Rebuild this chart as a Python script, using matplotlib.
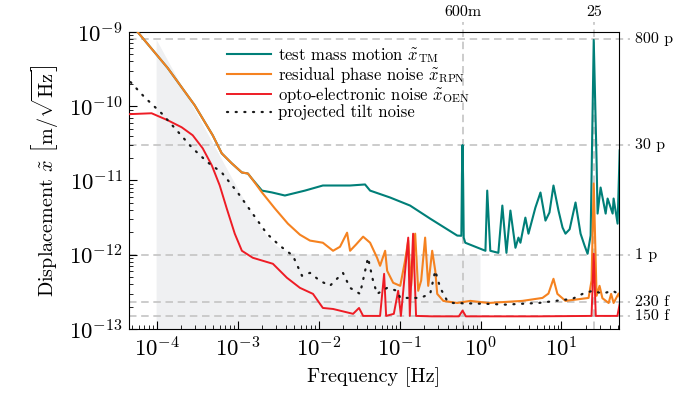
import matplotlib
matplotlib.use("Agg")
import matplotlib.pyplot as plt
import numpy as np

# --- data (frequency in Hz, ASD in m/sqrt(Hz)) ---
tm_freq = [5.82e-5, 1.37e-4, 2.95e-4, 4.93e-4, 6.37e-4, 8.47e-4, 1.13e-3, 1.34e-3,
           1.50e-3, 2.0e-3, 2.65e-3, 3.84e-3, 6.79e-3, 1.13e-2, 2.45e-2, 3.75e-2,
           4.33e-2, 7.65e-2, 0.135, 0.239, 0.516, 0.58, 0.59, 0.60, 0.61, 0.62,
           0.648, 1.15, 1.21, 1.32, 1.66, 1.86, 2.09, 2.34, 2.70, 2.94, 3.11,
           3.58, 3.91, 4.76, 5.50, 6.34, 7.1, 7.96, 9.18, 10.3, 11.2, 12.6,
           14.9, 17.2, 19.3, 21.0, 22.9, 25.0, 27.1, 27.9, 30.4, 35.1, 37.1,
           42.8, 44.0, 49.3, 52.3]
tm_asd = [1.0e-9, 3.27e-10, 1.03e-10, 4.06e-11, 2.32e-11, 1.70e-11, 1.28e-11, 1.24e-11,
          1.06e-11, 7.3e-12, 6.9e-12, 6.27e-12, 7.3e-12, 8.55e-12, 8.55e-12, 8.83e-12,
          7.3e-12, 5.89e-12, 4.59e-12, 3.06e-12, 1.81e-12, 1.8e-12, 1.2e-11, 3.0e-11, 1.0e-11, 1.7e-12,
          1.45e-12, 1.13e-12, 7.3e-12, 1.13e-12, 1.06e-12, 4.59e-12, 1.06e-12, 3.93e-12, 1.24e-12, 1.70e-12, 1.45e-12,
          3.16e-12, 1.92e-12, 4.31e-12, 6.88e-12, 2.88e-12, 3.70e-12, 8.55e-12, 3.93e-12, 2.32e-12, 1.92e-12, 2.2e-12,
          5.05e-12, 1.92e-12, 1.32e-12, 1.03e-12, 1.81e-12, 7.8e-10, 1.86e-11, 3.58e-12, 8.03e-12, 3.58e-12, 5.71e-12,
          3.58e-12, 5.71e-12, 2.62e-12, 2.54e-11]

rpn_freq = [5.82e-5, 1.37e-4, 2.95e-4, 4.93e-4, 6.37e-4, 8.47e-4, 1.13e-3, 1.34e-3,
            1.50e-3, 2.0e-3, 2.89e-3, 4.18e-3, 5.89e-3, 7.83e-3, 1.13e-2, 1.51e-2,
            1.84e-2, 2.25e-2, 2.45e-2, 2.90e-2, 3.55e-2, 4.33e-2, 5.28e-2, 5.75e-2,
            6.64e-2, 7.03e-2, 8.34e-2, 0.102, 0.117, 0.128, 0.139, 0.156, 0.170,
            0.185, 0.207, 0.226, 0.253, 0.276, 0.292, 0.347, 0.516, 0.748, 1.25,
            3.29, 5.82, 6.9, 7.96, 8.9, 11.2, 21.6, 23.5, 25.0, 27.1, 29.5, 32.0,
            38.2, 41.0, 44.0, 50.7, 52.3]
rpn_asd = [1.0e-9, 3.27e-10, 1.03e-10, 4.06e-11, 2.32e-11, 1.70e-11, 1.28e-11, 1.24e-11,
           1.06e-11, 6.9e-12, 4.19e-12, 2.62e-12, 1.86e-12, 1.55e-12, 1.45e-12, 1.13e-12,
           1.28e-12, 1.98e-12, 1.13e-12, 1.37e-12, 1.75e-12, 1.45e-12, 9.1e-13, 7.1e-13,
           1.13e-12, 6.08e-13, 4.19e-13, 3.81e-13, 8.3e-13, 1.55e-12, 3.81e-13, 1.92e-12, 3.27e-13,
           4.5e-13, 1.70e-12, 3.81e-13, 1.13e-12, 6.1e-13, 2.97e-13, 2.39e-13, 2.24e-13, 2.39e-13, 2.24e-13,
           2.39e-13, 2.62e-13, 3.0e-13, 4.74e-13, 2.97e-13, 2.39e-13, 2.62e-13, 4.5e-13, 9.1e-12, 2.8e-13, 3.81e-13, 2.6e-13,
           2.24e-13, 2.97e-13, 2.24e-13, 3.0e-13, 2.7e-13]

oen_freq = [4.5e-5, 8.67e-5, 1.37e-4, 2.04e-4, 2.79e-4, 3.71e-4, 4.80e-4, 6.02e-4,
            7.35e-4, 9.23e-4, 1.13e-3, 1.54e-3, 2.73e-3, 4.07e-3, 5.89e-3, 8.53e-3,
            1.13e-2, 1.51e-2, 2.67e-2, 3.16e-2, 3.55e-2, 5.75e-2, 6.45e-2, 6.83e-2,
            8.5e-2, 9.62e-2, 0.104, 0.128, 0.134, 0.147, 0.160, 0.25, 0.54, 0.60,
            0.66, 5.0, 23.5, 25.0, 26.5, 49.0, 52.3]
oen_asd = [7.8e-11, 8.03e-11, 6.47e-11, 5.2e-11, 4.06e-11, 2.71e-11, 1.60e-11, 8.55e-12,
           4.19e-12, 1.92e-12, 1.13e-12, 9.1e-13, 7.55e-13, 4.89e-13, 3.58e-13, 2.97e-13,
           1.92e-13, 1.86e-13, 1.60e-13, 1.92e-13, 1.5e-13, 1.5e-13, 5.53e-13, 1.5e-13,
           1.6e-13, 3.27e-13, 1.5e-13, 1.70e-12, 1.5e-13, 1.92e-12, 1.5e-13, 1.48e-13, 1.48e-13, 1.77e-13,
           1.48e-13, 1.48e-13, 1.5e-13, 1.03e-12, 1.5e-13, 1.5e-13, 2.18e-13]

tilt_freq = [4.77e-5, 7.1e-5, 1.15e-4, 1.77e-4, 2.71e-4, 4.28e-4, 6.37e-4, 1.0e-3,
             1.50e-3, 2.30e-3, 3.33e-3, 4.82e-3, 6.24e-3, 7.83e-3, 1.04e-2, 1.38e-2,
             2.0e-2, 2.45e-2, 3.25e-2, 4.08e-2, 4.71e-2, 5.28e-2, 7.03e-2, 9.33e-2,
             0.102, 0.18, 0.239, 0.276, 0.318, 0.388, 0.46, 1.2, 2.03, 5.19, 8.43,
             13.7, 18.2, 24.2, 32.2, 42.8, 50.7]
tilt_asd = [2.11e-10, 1.32e-10, 8.03e-11, 4.74e-11, 2.79e-11, 1.75e-11, 1.28e-11, 6.9e-12,
            3.70e-12, 1.92e-12, 1.32e-12, 9.7e-13, 5.2e-13, 5.7e-13, 4.46e-13, 3.81e-13,
            5.7e-13, 3.58e-13, 2.97e-13, 9.1e-13, 4.46e-13, 2.97e-13, 3.58e-13, 3.27e-13,
            2.62e-13, 2.62e-13, 2.97e-13, 6.1e-13, 3.58e-13, 2.39e-13, 2.24e-13, 2.18e-13, 2.13e-13, 2.24e-13, 2.39e-13,
            2.55e-13, 2.97e-13, 3.27e-13, 3.0e-13, 3.27e-13, 2.97e-13]

# reference levels (right side) and marked frequencies (top side)
level_values = [8e-10, 3e-11, 1e-12, 2.3e-13, 1.5e-13]
level_labels = ["800 p", "30 p", "1 p", "230 f", "150 f"]
mark_freqs = [0.6, 25.0]
mark_labels = ["600m", "25"]

# major ticks
x_ticks = [1e-4, 1e-3, 1e-2, 1e-1, 1e0, 1e1]
y_ticks = [1e-13, 1e-12, 1e-11, 1e-10, 1e-9]

# requirement band: 1 pm/sqrt(Hz) * sqrt(1 + (f0/f)^4) between 0.1 mHz and 1 Hz
req_level = 1e-12
req_f0 = 2.8e-3
req_band = (1e-4, 1.0)

plt.rcParams["font.family"] = "serif"
plt.rcParams["font.serif"] = ["cmr10", "DejaVu Serif"]
plt.rcParams["mathtext.fontset"] = "cm"
plt.rcParams["axes.formatter.use_mathtext"] = True

TEAL = "#007f78"
ORANGE = "#f58220"
RED = "#ee1c25"
GRID = "#c4c4c4"

fig = plt.figure(figsize=(6.8, 3.94), dpi=100)
ax = fig.add_axes([0.189, 0.165, 0.722, 0.754])
ax.set_xscale("log")
ax.set_yscale("log")
ax.set_xlim(4.5e-5, 52)
ax.set_ylim(1e-13, 1e-9)
ax.set_xticks(x_ticks)
ax.set_yticks(y_ticks)

# --- requirement band ---
fb = np.logspace(np.log10(req_band[0]), np.log10(req_band[1]), 300)
req = req_level * np.sqrt(1 + (req_f0 / fb) ** 4)
ax.fill_between(fb, 1e-13, req, facecolor="#eff0f2", edgecolor="none", zorder=0)

# --- reference grid lines, with their labels outside the frame ---
ytrans = ax.get_yaxis_transform()   # x in axes units, y in data
xtrans = ax.get_xaxis_transform()   # x in data, y in axes units
for v, lab in zip(level_values, level_labels):
    ax.axhline(v, xmin=0, xmax=1.022, color=GRID, lw=1.2, dashes=(4.5, 2.8),
               clip_on=False, zorder=1)
    ax.text(1.031, v, lab, transform=ytrans, ha="left", va="center",
            fontsize=11.5)
for f, lab in zip(mark_freqs, mark_labels):
    ax.axvline(f, ymin=0, ymax=1.034, color=GRID, lw=1.2, dashes=(4.5, 2.8),
               clip_on=False, zorder=1)
    ax.text(f, 1.045, lab, transform=xtrans, ha="center", va="bottom",
            fontsize=11.5)

# --- curves ---
ax.plot(tm_freq, tm_asd, color=TEAL, lw=1.5, zorder=3,
        label=r"test mass motion $\tilde{x}_\mathrm{TM}$")
ax.plot(rpn_freq, rpn_asd, color=ORANGE, lw=1.5, zorder=4,
        label=r"residual phase noise $\tilde{x}_\mathrm{RPN}$")
ax.plot(oen_freq, oen_asd, color=RED, lw=1.4, zorder=5,
        label=r"opto-electronic noise $\tilde{x}_\mathrm{OEN}$")
ax.plot(tilt_freq, tilt_asd, color="#1a1a1a", lw=1.6, dashes=(0.5, 3.4),
        dash_capstyle="round", zorder=6, label="projected tilt noise")

# --- axes styling ---
ax.tick_params(which="both", direction="in", top=False, right=False)
ax.tick_params(which="major", length=6, labelsize=16.5)
ax.tick_params(which="minor", length=3)
ax.tick_params(axis="x", pad=5)
ax.tick_params(axis="y", pad=4)
ax.set_xlabel("Frequency [Hz]", fontsize=14.5, labelpad=5)
ax.set_ylabel(r"Displacement $\tilde{x}$ $\left[\mathrm{m}/\sqrt{\mathrm{Hz}}\right]$",
              fontsize=14.5, labelpad=6)

ax.legend(loc="upper left", bbox_to_anchor=(0.174, 0.998), frameon=False,
          fontsize=12, handlelength=2.6, labelspacing=0.0, handletextpad=0.45,
          borderpad=0.3)

fig.savefig("out.png", dpi=100)
